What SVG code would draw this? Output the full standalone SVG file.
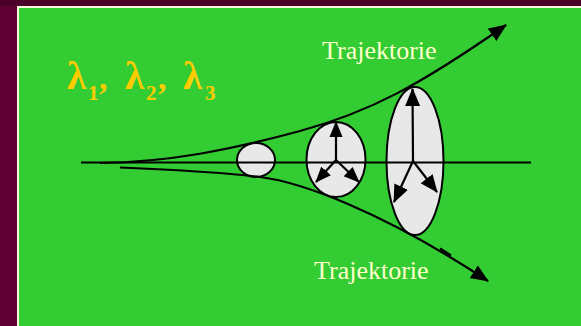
<svg xmlns="http://www.w3.org/2000/svg" width="581" height="326" viewBox="0 0 581 326">
<style>
.ln{fill:none;stroke:#000;stroke-width:2.2}
.el{fill:#E8E8E8;stroke:#000;stroke-width:2}
.tr{font-family:"Liberation Serif","Times New Roman",serif;font-size:26px;fill:#FFFFCC}
.lam{font-family:"Liberation Serif","Times New Roman",serif;font-weight:bold;fill:#FFCC00}
</style>
<defs>
<marker id="ah" markerUnits="userSpaceOnUse" markerWidth="19" markerHeight="17" viewBox="0 0 19 17" refX="17" refY="8.5" orient="auto">
<path d="M0,1 L18,8.5 L0,16 Z" fill="#000"/>
</marker>
<marker id="ahs" markerUnits="userSpaceOnUse" markerWidth="17" markerHeight="15" viewBox="0 0 17 15" refX="15" refY="7.5" orient="auto">
<path d="M0,1 L16,7.5 L0,14 Z" fill="#000"/>
</marker>
</defs>
<rect x="0" y="0" width="581" height="326" fill="#5E0032"/>
<rect x="0" y="0" width="581" height="6" fill="#4A0028"/>
<rect x="18" y="7" width="570" height="330" fill="#33CC33" stroke="#FFF8DC" stroke-width="2"/>
<g id="label-lambda">
<text class="lam" x="67" y="89" font-size="39">λ</text>
<text class="lam" x="88" y="100" font-size="21">1</text>
<text class="lam" x="99" y="89" font-size="34">,</text>
<text class="lam" x="125" y="89" font-size="39">λ</text>
<text class="lam" x="146" y="100" font-size="21">2</text>
<text class="lam" x="158" y="89" font-size="34">,</text>
<text class="lam" x="183" y="89" font-size="39">λ</text>
<text class="lam" x="205" y="100" font-size="21">3</text>
</g>
<g id="node-circle1"><ellipse class="el" cx="256" cy="160" rx="19" ry="17"/></g>
<g id="node-ellipse2"><ellipse class="el" cx="336" cy="159.5" rx="29.5" ry="37.5"/></g>
<g id="node-ellipse3"><ellipse class="el" cx="415" cy="161" rx="28.5" ry="74"/></g>
<g id="connectors">
<path class="ln" d="M81,162.5 L531,162.5"/>
<path class="ln" d="M100,163 C170,162 230,150 300,131 S420,85 506,25" marker-end="url(#ah)"/>
<path class="ln" d="M120,167.5 C180,170 220,172 260,177 S380,210 488,281" marker-end="url(#ah)"/>
<path class="ln" d="M440,248.5 L451,255.5" stroke-width="1.2"/>
<path class="ln" d="M336,160 L336,122" marker-end="url(#ahs)"/>
<path class="ln" d="M336,160 L316,182" marker-end="url(#ahs)"/>
<path class="ln" d="M336,160 L359,182" marker-end="url(#ahs)"/>
<path class="ln" d="M413,161 L412.5,89" marker-end="url(#ah)"/>
<path class="ln" d="M413,161 L394,202" marker-end="url(#ah)"/>
<path class="ln" d="M413,161 L437,192" marker-end="url(#ah)"/>
</g>
<g id="label-top"><text class="tr" x="322" y="59">Trajektorie</text></g>
<g id="label-bottom"><text class="tr" x="314" y="279">Trajektorie</text></g>
</svg>
